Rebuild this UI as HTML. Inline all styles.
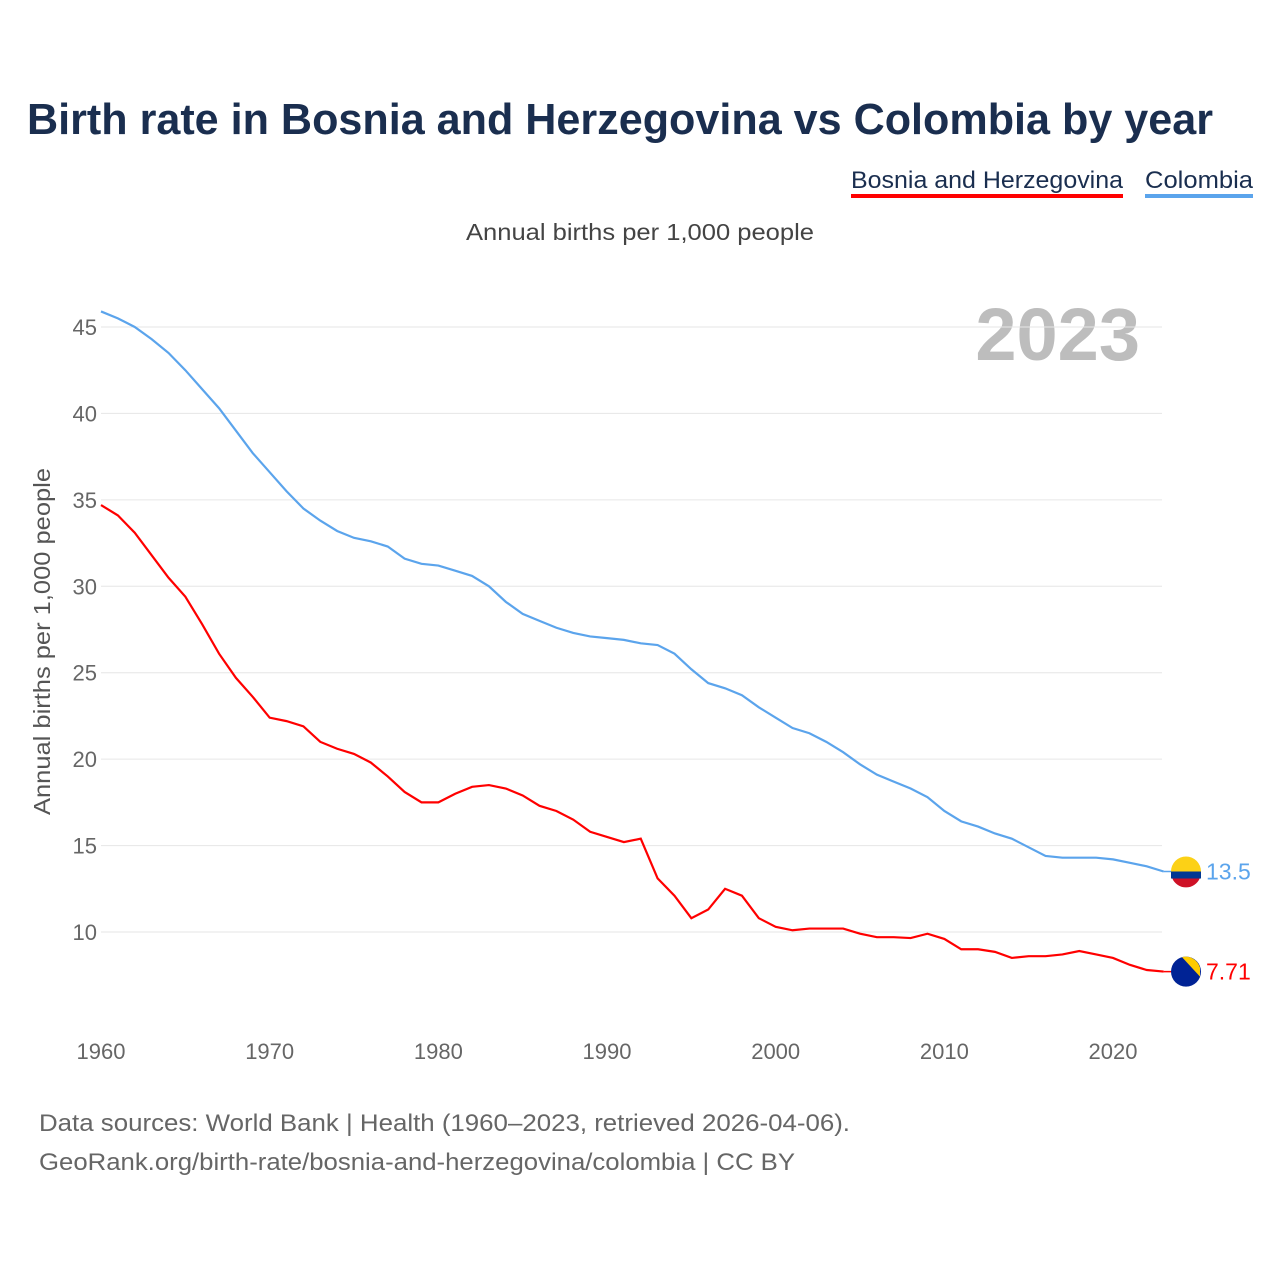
<!DOCTYPE html>
<html><head><meta charset="utf-8">
<style>
body{margin:0;background:#fff;font-family:"Liberation Sans",sans-serif;}
svg text{font-family:"Liberation Sans",sans-serif;}
</style></head>
<body>
<svg id="chart" width="1280" height="1280">
<text x="27" y="134" font-size="44" font-weight="bold" fill="#1a2e4f" textLength="1186" lengthAdjust="spacingAndGlyphs">Birth rate in Bosnia and Herzegovina vs Colombia by year</text>
<g>
<text x="851" y="188" font-size="24" fill="#1a2e4f" textLength="272" lengthAdjust="spacingAndGlyphs">Bosnia and Herzegovina</text>
<rect x="851" y="194" width="272" height="4" fill="#ff0000"/>
<text x="1145" y="188" font-size="24" fill="#1a2e4f" textLength="108" lengthAdjust="spacingAndGlyphs">Colombia</text>
<rect x="1145" y="194" width="108" height="4" fill="#5ba4ec"/>
</g>
<text x="466" y="240" font-size="23" fill="#444" textLength="348" lengthAdjust="spacingAndGlyphs">Annual births per 1,000 people</text>
<text x="1140" y="360" font-size="74" font-weight="bold" fill="#bdbdbd" text-anchor="end">2023</text>
<text transform="translate(50,815) rotate(-90)" font-size="23" fill="#555" textLength="347" lengthAdjust="spacingAndGlyphs">Annual births per 1,000 people</text>
<g id="grid"></g><g id="yticks"></g><g id="xticks"></g><g id="lines"></g>
<text x="39" y="1131" font-size="24" fill="#666" textLength="811" lengthAdjust="spacingAndGlyphs">Data sources: World Bank | Health (1960–2023, retrieved 2026-04-06).</text>
<text x="39" y="1170" font-size="24" fill="#666" textLength="756" lengthAdjust="spacingAndGlyphs">GeoRank.org/birth-rate/bosnia-and-herzegovina/colombia | CC BY</text>
</svg>
<script>
const years=[];for(let y=1960;y<=2023;y++)years.push(y);
const colombia=[45.9,45.5,45.0,44.3,43.5,42.5,41.4,40.3,39.0,37.7,36.6,35.5,34.5,33.8,33.2,32.8,32.6,32.3,31.6,31.3,31.2,30.9,30.6,30.0,29.1,28.4,28.0,27.6,27.3,27.1,27.0,26.9,26.7,26.6,26.1,25.2,24.4,24.1,23.7,23.0,22.4,21.8,21.5,21.0,20.4,19.7,19.1,18.7,18.3,17.8,17.0,16.4,16.1,15.7,15.4,14.9,14.4,14.3,14.3,14.3,14.2,14.0,13.8,13.5];
const bosnia=[34.7,34.1,33.1,31.8,30.5,29.4,27.8,26.1,24.7,23.6,22.4,22.2,21.9,21.0,20.6,20.3,19.8,19.0,18.1,17.5,17.5,18.0,18.4,18.5,18.3,17.9,17.3,17.0,16.5,15.8,15.5,15.2,15.4,13.1,12.1,10.8,11.3,12.5,12.1,10.8,10.3,10.1,10.2,10.2,10.2,9.9,9.7,9.7,9.65,9.9,9.6,9.0,9.0,8.85,8.5,8.6,8.6,8.7,8.9,8.7,8.5,8.1,7.8,7.71];
const yTicks=[10,15,20,25,30,35,40,45];
const xTicks=[1960,1970,1980,1990,2000,2010,2020];
const NS="http://www.w3.org/2000/svg";
const X=v=>101+(v-1960)*16.867, Y=v=>932-(v-10)*17.286;
function mk(t,a,p){const e=document.createElementNS(NS,t);for(const k in a)e.setAttribute(k,a[k]);p.appendChild(e);return e;}
const grid=document.getElementById('grid'),yt=document.getElementById('yticks'),xt=document.getElementById('xticks'),ln=document.getElementById('lines');
yTicks.forEach(v=>{
 const l=mk('line',{x1:101,x2:1162,y1:Y(v),y2:Y(v),stroke:'#e6e6e6'},grid);
 
 
 const t=mk('text',{x:97,y:Y(v)+8,'font-size':22,fill:'#666','text-anchor':'end'},yt);t.textContent=v;
 
 
});
xTicks.forEach(v=>{
 const t=mk('text',{x:X(v),y:1059,'font-size':22,fill:'#666','text-anchor':'middle'},xt);t.textContent=v;
 
 
});
function series(d,c,name){
 const p=mk('polyline',{points:d.map((v,i)=>X(years[i])+','+Y(v)).join(' '),fill:'none',stroke:c,'stroke-width':2.2},ln);
 
 
}
series(colombia,'#5ba4ec','colombia');
series(bosnia,'#ff0000','bosnia');
function endLabel(d,c,name,flag){
 const v=d[d.length-1],cx=1186,cy=Y(v);
 const g=mk('g',{},ln);
 
 
 mk('line',{x1:X(2023),x2:cx,y1:cy,y2:cy,stroke:c,'stroke-width':1.5},g);
 if(flag==='co'){
  mk('circle',{cx,cy,r:15,fill:'#fcd116'},g);
  mk('rect',{x:cx-15,y:cy,width:30,height:7,fill:'#003893'},g);
  mk('path',{d:`M${cx-13.7} ${cy+7}A15 15 0 0 0 ${cx+13.7} ${cy+7}Z`,fill:'#ce1126'},g);
 }else{
  mk('circle',{cx,cy,r:15,fill:'#002395'},g);
  mk('path',{d:`M${cx-4} ${cy-14.5}L${cx+14} ${cy-4}A15 15 0 0 0 ${cx-4} ${cy-14.5}Z M${cx-4} ${cy-14.5}L${cx+14} ${cy+5}L${cx+14} ${cy-4}Z`,fill:'#fecb00'},g);
 }
 const t=mk('text',{x:1206,y:cy+8,'font-size':23,fill:c},ln);t.textContent=v;
 
 
}
endLabel(colombia,'#5ba4ec','colombia','co');
endLabel(bosnia,'#ff0000','bosnia','ba');
</script>
</body></html>
